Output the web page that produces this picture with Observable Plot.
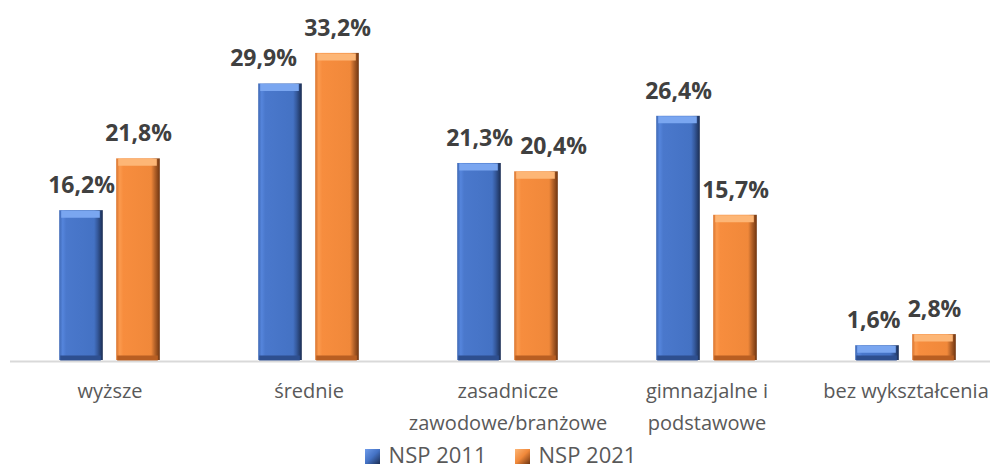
<!DOCTYPE html>
<html>
<head>
<meta charset="utf-8">
<script src="https://cdn.jsdelivr.net/npm/d3@7"></script>
<script src="https://cdn.jsdelivr.net/npm/@observablehq/plot@0.6"></script>
<style>
  html, body { margin: 0; padding: 0; background: #fff; overflow: hidden; }
  #chart svg { display: block; overflow: visible; }
  #legend {
    display: flex; justify-content: center; align-items: flex-start;
    height: 27px; padding-left: 11px;
    font-family: "Open Sans", sans-serif; font-size: 22px; line-height: 26px; color: #595959;
  }
  #legend .item { display: flex; align-items: center; }
  #legend .item + .item { margin-left: 28px; }
  #legend .sw { flex: none; width: 15px; height: 15px; margin-right: 9px; position: relative; top: 2px; }
</style>
</head>
<body>
<div id="chart"></div>
<div id="legend"></div>
<script>
// ---- data ----
const categories = ["wyższe", "średnie", "zasadnicze\nzawodowe/branżowe", "gimnazjalne i\npodstawowe", "bez wykształcenia"];
const nsp2011 = [16.2, 29.9, 21.3, 26.4, 1.6];
const nsp2021 = [21.8, 33.2, 20.4, 15.7, 2.8];
const seriesNames = ["NSP 2011", "NSP 2021"];

// ---- tables built from data ----
const blue = categories.map((c, i) => ({category: c, value: nsp2011[i], series: seriesNames[0]}));
const orange = categories.map((c, i) => ({category: c, value: nsp2021[i], series: seriesNames[1]}));
const fmt = v => v.toFixed(1).replace(".", ",") + "%";

const band = (1006 - 9) / categories.length;
const outerInset = band / 2 - 50.5;
const innerInset = band / 2 + 6.5;
const labelOffset = 28.5;

const chart = Plot.plot({
  width: 990,
  height: 441,
  marginLeft: 10,
  marginRight: 0,
  marginTop: 0,
  marginBottom: 81,
  style: {fontFamily: "'Open Sans', sans-serif", fontSize: "20px", color: "#595959", background: "white", overflow: "visible"},
  x: {type: "band", domain: categories, range: [9, 1006], padding: 0},
  y: {domain: [0, 36], range: [360, 27], axis: null},
  marks: [
    Plot.ruleY([0], {stroke: "#D9D9D9", strokeWidth: 2, dy: 1}),
    // NSP 2011 bars
    Plot.barY(blue, {x: "category", y: "value", fill: "url(#gBlue)", insetLeft: outerInset, insetRight: innerInset}),
    Plot.tickY(blue, {x: "category", y: "value", stroke: "#7AA6F0", strokeWidth: 7, dy: 3.5, insetLeft: outerInset + 2, insetRight: innerInset + 3}),
    Plot.tickY(blue, {x: "category", y: 0, stroke: "#2E4F8F", strokeWidth: 5, dy: -2.5, insetLeft: outerInset + 1, insetRight: innerInset + 2}),
    // NSP 2021 bars
    Plot.barY(orange, {x: "category", y: "value", fill: "url(#gOrange)", insetLeft: innerInset, insetRight: outerInset}),
    Plot.tickY(orange, {x: "category", y: "value", stroke: "#FDB676", strokeWidth: 7, dy: 3.5, insetLeft: innerInset + 2, insetRight: outerInset + 3}),
    Plot.tickY(orange, {x: "category", y: 0, stroke: "#B85E22", strokeWidth: 5, dy: -2.5, insetLeft: innerInset + 1, insetRight: outerInset + 2}),
    // value labels
    Plot.text(blue, {x: "category", y: "value", text: d => fmt(d.value), dx: -labelOffset, dy: -25,
      fontSize: 23, fontWeight: "bold", fill: "#404040"}),
    Plot.text(orange, {x: "category", y: "value", text: d => fmt(d.value), dx: labelOffset, dy: -25,
      fontSize: 23, fontWeight: "bold", fill: "#404040"}),
    Plot.axisX({tickSize: 0, tickPadding: 15, fontSize: 20, fill: "#595959", lineHeight: 1.6, label: null})
  ]
});

// gradients for the bevelled bars
const defs = d3.select(chart).insert("defs", ":first-child");
function grad(id, stops) {
  const g = defs.append("linearGradient").attr("id", id).attr("x1", 0).attr("x2", 1).attr("y1", 0).attr("y2", 0);
  stops.forEach(([o, c]) => g.append("stop").attr("offset", o).attr("stop-color", c));
}
grad("gBlue", [[0, "#3F69B5"], [0.08, "#5585DC"], [0.16, "#4A78CC"], [0.8, "#4472C4"], [0.88, "#35599C"], [1, "#1B2D52"]]);
grad("gOrange", [[0, "#D9742E"], [0.08, "#FB9A4E"], [0.16, "#F78D3E"], [0.8, "#F0883A"], [0.88, "#B9652A"], [1, "#6E3410"]]);

document.getElementById("chart").appendChild(chart);

// simple label collision avoidance (like the spreadsheet's automatic placement)
const valueTexts = [...chart.querySelectorAll("text")].filter(t => /%$/.test(t.textContent.trim()));
const tb = valueTexts.slice(0, categories.length);
const to = valueTexts.slice(categories.length, 2 * categories.length);
function shiftText(el, dx) {
  const tr = el.getAttribute("transform");
  const m = tr && /translate\(\s*([-\d.e]+)[,\s]+([-\d.e]+)\s*\)/.exec(tr);
  if (m) el.setAttribute("transform", `translate(${+m[1] + dx},${+m[2]})`);
  else el.setAttribute("x", (+el.getAttribute("x") || 0) + dx);
}
categories.forEach((c, i) => {
  const a = tb[i], b = to[i];
  if (!a || !b) return;
  const ra = a.getBoundingClientRect(), rb = b.getBoundingClientRect();
  const vOverlap = ra.top < rb.bottom && rb.top < ra.bottom;
  const gap = rb.left - ra.right;
  if (vOverlap && gap < 7) {
    const s = 7 - gap;
    if (nsp2021[i] < nsp2011[i]) shiftText(b, s); else shiftText(a, -s);
  }
});

// legend
const legend = d3.select("#legend");
[["linear-gradient(135deg, #6F9CEB 0%, #4472C4 50%, #1B2D52 100%)", seriesNames[0]],
 ["linear-gradient(135deg, #FDB676 0%, #F0883A 50%, #6E3410 100%)", seriesNames[1]]].forEach(([bg, name]) => {
  const it = legend.append("div").attr("class", "item");
  it.append("div").attr("class", "sw").style("background", bg);
  it.append("span").text(name);
});
</script>
</body>
</html>
